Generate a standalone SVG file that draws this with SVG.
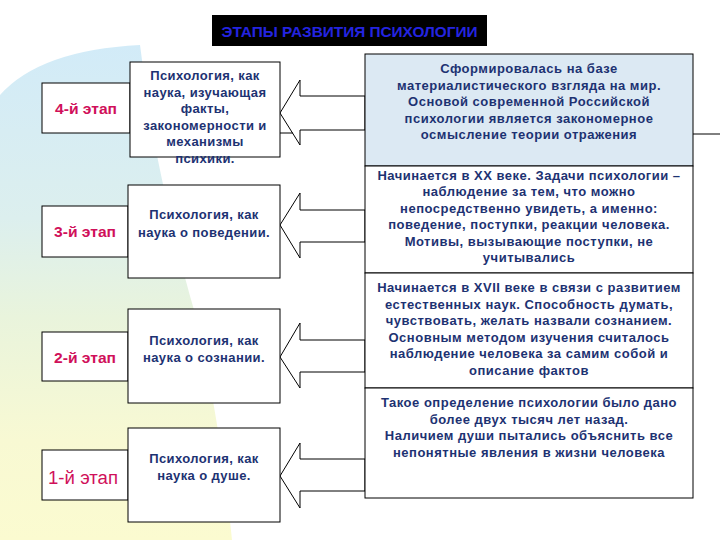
<svg xmlns="http://www.w3.org/2000/svg" width="720" height="540" viewBox="0 0 720 540">
<defs>
<linearGradient id="bg" x1="0" y1="0" x2="0" y2="1">
<stop offset="0" stop-color="#d2ebf8"/>
<stop offset="0.35" stop-color="#dcefee"/>
<stop offset="0.55" stop-color="#e9f4dc"/>
<stop offset="0.8" stop-color="#f8f9d3"/>
<stop offset="1" stop-color="#fbfbd0"/>
</linearGradient>
<style>
.box{fill:#fff;stroke:#000;stroke-width:1}
.arr{fill:#fff;stroke:#000;stroke-width:1}
.stage{font-family:"Liberation Sans",Arial,sans-serif;font-weight:bold;font-size:14px;fill:#d0105a;text-anchor:middle}
.mid{font-family:"Liberation Sans",Arial,sans-serif;font-weight:bold;font-size:13px;fill:#1d3272;text-anchor:middle;letter-spacing:0.4px}
.rt{font-family:"Liberation Sans",Arial,sans-serif;font-weight:bold;font-size:13px;fill:#1d3272;text-anchor:middle;letter-spacing:0.5px}
</style>
</defs>
<rect width="720" height="540" fill="#fff"/>
<path d="M0,95 Q40,50 140,45 L150,120 Q175,250 200,330 Q222,440 232,540 L0,540 Z" fill="url(#bg)"/>

<g id="title">
<rect x="212" y="15" width="275" height="31" fill="#000"/>
<text x="349.5" y="37" font-family="Liberation Sans,Arial,sans-serif" font-weight="bold" font-size="15" fill="#2424e0" text-anchor="middle" textLength="256" lengthAdjust="spacingAndGlyphs">ЭТАПЫ РАЗВИТИЯ ПСИХОЛОГИИ</text>
</g>

<g id="connectors">
<polygon class="arr" points="280,113 300,80 300,96 365,96 365,130 300,130 300,145"/>
<polygon class="arr" points="280,225 300,193 300,210 365,210 365,242 300,242 300,258"/>
<polygon class="arr" points="280,357 300,323 300,340 365,340 365,372 300,372 300,388"/>
<polygon class="arr" points="280,476 300,443 300,459 365,459 365,491 300,491 300,508"/>
<line x1="693" y1="134" x2="720" y2="134" stroke="#000"/>
</g>

<g id="stage4">
<rect class="box" x="42" y="83" width="88" height="50"/>
<line x1="280" y1="133" x2="293" y2="133" stroke="#000"/>
<text class="stage" x="86" y="114" textLength="62" lengthAdjust="spacingAndGlyphs">4-й этап</text>
</g>
<g id="stage3">
<rect class="box" x="42" y="206" width="86" height="51"/>
<text class="stage" x="85" y="237" textLength="62" lengthAdjust="spacingAndGlyphs">3-й этап</text>
</g>
<g id="stage2">
<rect class="box" x="42" y="332" width="86" height="49"/>
<text class="stage" x="85" y="363" textLength="62" lengthAdjust="spacingAndGlyphs">2-й этап</text>
</g>
<g id="stage1">
<rect class="box" x="42" y="450" width="86" height="50"/>
<text x="83" y="484" font-family="Liberation Sans,Arial,sans-serif" font-size="18" fill="#d0105a" text-anchor="middle" textLength="70" lengthAdjust="spacingAndGlyphs">1-й этап</text>
</g>

<g id="def4">
<rect class="box" x="130" y="62" width="150" height="95"/>
<text class="mid" x="205" y="80">Психология, как</text>
<text class="mid" x="205" y="97">наука, изучающая</text>
<text class="mid" x="205" y="113">факты,</text>
<text class="mid" x="205" y="130">закономерности и</text>
<text class="mid" x="205" y="146">механизмы</text>
<text class="mid" x="205" y="163">психики.</text>
</g>
<g id="def3">
<rect class="box" x="128" y="185" width="152" height="93"/>
<text class="mid" x="204" y="219">Психология, как</text>
<text class="mid" x="204" y="237">наука о поведении.</text>
</g>
<g id="def2">
<rect class="box" x="128" y="309" width="152" height="94"/>
<text class="mid" x="204" y="345">Психология, как</text>
<text class="mid" x="204" y="362">наука о сознании.</text>
</g>
<g id="def1">
<rect class="box" x="128" y="428" width="152" height="94"/>
<text class="mid" x="204" y="463">Психология, как</text>
<text class="mid" x="204" y="480">наука о душе.</text>
</g>

<g id="desc4">
<rect x="365" y="54" width="328" height="112" fill="#dce9f3" stroke="#000"/>
<text class="rt" x="529" y="73">Сформировалась на базе</text>
<text class="rt" x="529" y="90">материалистического взгляда на мир.</text>
<text class="rt" x="529" y="106">Основой современной Российской</text>
<text class="rt" x="529" y="123">психологии является закономерное</text>
<text class="rt" x="529" y="139">осмысление теории отражения</text>
</g>
<g id="desc3">
<rect class="box" x="365" y="166" width="328" height="107"/>
<text class="rt" x="529" y="180">Начинается в XX веке. Задачи психологии –</text>
<text class="rt" x="529" y="196">наблюдение за тем, что можно</text>
<text class="rt" x="529" y="213">непосредственно увидеть, а именно:</text>
<text class="rt" x="529" y="229">поведение, поступки, реакции человека.</text>
<text class="rt" x="529" y="246">Мотивы, вызывающие поступки, не</text>
<text class="rt" x="529" y="262">учитывались</text>
</g>
<g id="desc2">
<rect class="box" x="365" y="273" width="328" height="115"/>
<text class="rt" x="529" y="292">Начинается в XVII веке в связи с развитием</text>
<text class="rt" x="529" y="309">естественных наук. Способность думать,</text>
<text class="rt" x="529" y="325">чувствовать, желать назвали сознанием.</text>
<text class="rt" x="529" y="342">Основным методом изучения считалось</text>
<text class="rt" x="529" y="358">наблюдение человека за самим собой и</text>
<text class="rt" x="529" y="375">описание фактов</text>
</g>
<g id="desc1">
<rect class="box" x="365" y="388" width="328" height="110"/>
<text class="rt" x="529" y="407">Такое определение психологии было дано</text>
<text class="rt" x="529" y="424">более двух тысяч лет назад.</text>
<text class="rt" x="529" y="440">Наличием души пытались объяснить все</text>
<text class="rt" x="529" y="457">непонятные явления в жизни человека</text>
</g>
</svg>
